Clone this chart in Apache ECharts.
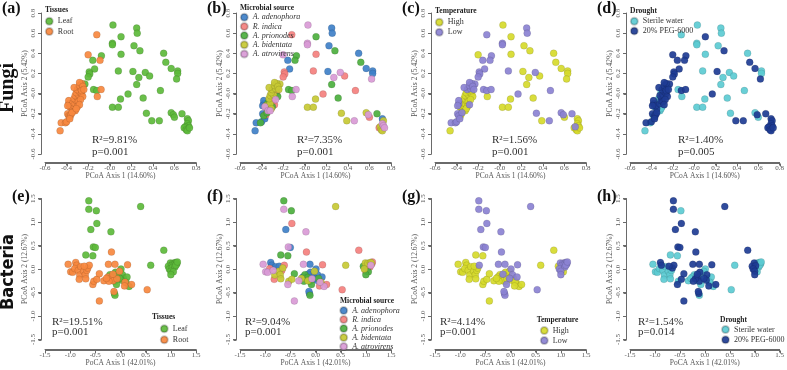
<!DOCTYPE html>
<html>
<head>
<meta charset="UTF-8">
<title>PCoA</title>
<style>
    html, body { margin: 0; padding: 0; background: #fff; }
    #main { width: 787px; height: 370px; }
</style>
</head>
<body>
<div id="main"></div>
<script src="https://cdn.jsdelivr.net/npm/echarts@6/dist/echarts.min.js"></script>
<script type="text/javascript">

    // ---------- fungi (top row): one entry per sample, first block leaf-ish area, second block root cluster
    var fungiX = [0.03, 0.25, 0.255, -0.12, 0.105, 0.025, 0.025, 0.225, 0.28, 0.105,
        0.50, 0.52, -0.077, -0.09, -0.2, -0.157, -0.14, -0.19, -0.185, -0.2,
        0.08, 0.215, 0.33, 0.37, 0.27, 0.57, 0.63, 0.63, 0.62, -0.23,
        -0.15, -0.12, -0.08, 0.25, 0.47, 0.17, 0.10, 0.31, -0.115, 0.025,
        0.08, 0.34, 0.39, 0.46, 0.57, 0.59, 0.60, 0.67, 0.72, 0.73,
        0.72, 0.73, 0.70, 0.69, 0.71, 0.72, 0.74,
        -0.46, -0.45, -0.41, -0.40, -0.39, -0.38, -0.37, -0.36, -0.38, -0.38,
        -0.37, -0.35, -0.34, -0.36, -0.33, -0.34, -0.32, -0.31, -0.33, -0.30,
        -0.32, -0.29, -0.31, -0.28, -0.30, -0.27, -0.33, -0.28, -0.26, -0.28,
        -0.25, -0.26, -0.25, -0.29, -0.27, -0.30, -0.28, -0.32, -0.35, -0.39,
        -0.37, -0.26, -0.24, -0.31];
    var fungiY = [0.68, 0.65, 0.60, 0.585, 0.565, 0.50, 0.485, 0.475, 0.425, 0.39,
        0.40, 0.31, 0.375, 0.33, 0.385, 0.33, 0.245, 0.215, 0.195, 0.165,
        0.225, 0.22, 0.21, 0.175, 0.16, 0.25, 0.225, 0.20, 0.145, 0.095,
        0.04, 0.03, 0.04, 0.09, 0.03, -0.005, -0.055, -0.045, -0.03, -0.135,
        -0.135, -0.195, -0.27, -0.27, -0.19, -0.21, -0.235, -0.20, -0.25, -0.27,
        -0.30, -0.32, -0.33, -0.34, -0.36, -0.37, -0.34,
        -0.37, -0.29, -0.29, -0.28, -0.20, -0.22, -0.23, -0.21, -0.10, -0.07,
        -0.13, -0.15, -0.17, -0.12, -0.12, -0.09, -0.10, -0.07, -0.05, -0.04,
        -0.02, -0.01, 0.01, 0.02, 0.04, 0.05, 0.06, 0.08, 0.10, 0.11,
        0.07, 0.00, -0.03, -0.08, -0.06, -0.13, -0.11, -0.17, -0.19, -0.12,
        -0.25, 0.03, 0.04, -0.15];
    // group codes (index into the name lists below)
    var fungiTissue = [0,0,0,1,0,0,0,0,0,0, 0,0,0,1,1,0,0,0,0,0, 0,0,0,0,0,0,0,0,0,0,
        0,0,1,0,0,0,0,0,1,0, 0,0,0,0,0,0,0,0,0,0, 0,0,0,0,0,0,0,
        1,1,1,1,1,1,1,1,1,1, 1,1,1,1,1,1,1,1,1,1, 1,1,1,1,1,1,1,1,1,1,
        1,1,1,1,1,1,1,1,1,1, 1,1,1,1];
    var fungiSource = [4,0,0,1,2,4,4,0,2,1, 0,2,2,2,4,0,0,1,1,1, 1,0,4,1,4,0,0,0,4,3,
        2,2,4,2,1,1,3,2,4,3, 3,3,3,4,3,4,1,2,0,3, 4,4,3,1,3,3,4,
        0,0,2,0,0,2,0,1,0,0, 4,1,4,3,1,2,3,1,3,1, 3,3,3,1,3,3,3,3,3,3,
        3,1,2,1,4,2,1,4,2,0, 0,1,3,3];
    var fungiTemp = [0,1,1,1,0,1,1,0,0,0, 0,0,1,1,0,1,1,1,1,1, 1,0,1,0,0,0,0,0,0,1,
        1,1,1,0,1,1,0,0,0,0, 0,1,0,1,1,1,0,1,0,0, 0,0,1,0,0,0,0,
        0,1,1,1,1,1,0,0,1,1, 0,0,0,0,0,0,0,0,0,0, 0,0,0,0,1,1,1,1,1,1,
        1,0,0,0,0,0,1,0,1,1, 1,0,1,0];
    var fungiDrought = [0,0,0,0,1,0,0,0,1,0, 0,1,1,1,1,1,1,1,1,1, 0,1,0,0,0,1,0,0,1,1,
        0,1,1,0,0,1,0,0,0,0, 0,0,1,1,0,1,0,1,1,1, 1,1,1,1,1,1,1,
        0,1,0,1,1,0,1,1,1,1, 0,1,0,1,0,0,1,1,0,1, 1,1,0,1,1,1,1,1,1,1,
        0,1,1,1,1,0,1,0,1,1, 1,1,1,0];

    // ---------- bacteria (bottom row)
    var bactX = [-0.63, -0.63, -0.48, 0.40, -0.47, -0.59, -0.19, -0.54, -0.50, -0.69,
        -0.55, 0.86, 0.60, 0.99, 1.04, 1.09, 1.12, 0.95, 1.02, 1.07,
        1.11, 0.97, 1.03, 1.08, 1.00, 1.05, 1.00, 1.10, 1.13, 0.01,
        -0.10, -0.21, -0.15, -0.06, 0.04, 0.06, 0.11, 0.03, -0.11, 0.13,
        0.17, -0.12, -0.11, -0.08, -0.02,
        -1.04, -0.99, -0.95, -0.89, -0.87, -0.91, -0.84, -0.79, -0.81, -0.82,
        -0.73, -0.70, -0.67, -0.65, -0.62, -0.72, -0.69, -0.55, -0.53, -0.47,
        -0.42, -0.42, -0.33, -0.24, -0.11, -0.18, -0.25, -0.19, -0.15, -0.07,
        -0.23, -0.15, -0.13, 0.09, 0.14, 0.22, 0.08, 0.53, -0.02, -0.28];
    var bactY = [1.45, 1.27, 1.24, 1.33, 0.97, 0.84, 0.79, 0.47, 0.46, 0.30,
        0.28, 0.40, 0.08, 0.13, 0.12, 0.14, 0.11, 0.06, 0.07, 0.10,
        0.13, 0.00, 0.03, 0.04, -0.05, -0.06, -0.12, 0.08, 0.15, 0.00,
        -0.07, -0.12, -0.18, -0.15, -0.12, -0.20, -0.28, -0.24, -0.26, -0.17,
        -0.37, -0.52, -0.56, -0.33, -0.20,
        0.10, -0.06, -0.07, 0.14, 0.08, 0.01, -0.03, 0.05, -0.13, -0.22,
        -0.05, -0.12, -0.03, 0.02, 0.08, 0.06, -0.21, -0.33, -0.26, -0.22,
        -0.10, -0.68, -0.25, 0.10, 0.10, 0.36, -0.17, -0.21, -0.25, -0.21,
        -0.26, -0.11, -0.48, -0.28, 0.09, -0.33, -0.36, -0.44, -0.05, -0.20];
    var bactTissue = [0,0,0,0,0,0,0,0,0,0, 0,0,0,0,0,0,0,0,0,0, 0,0,0,0,0,0,0,0,0,0,
        0,0,0,0,0,0,0,0,0,0, 0,0,0,0,0,
        1,1,1,1,1,1,1,1,1,1, 1,1,1,1,1,1,1,1,1,1, 1,1,1,1,1,1,1,1,1,1, 1,1,1,1,1,1,1,1,1,1];
    var bactSource = [2,4,2,3,1,0,4,4,0,2, 2,1,3,3,3,3,1,2,0,1, 3,3,0,1,1,2,2,4,1,0,
        0,2,2,0,0,2,3,0,2,0, 4,0,2,2,0,
        4,4,4,0,0,1,4,0,3,1, 3,3,1,3,1,0,3,4,3,3, 2,4,4,4,0,1,0,1,3,4, 2,0,0,4,1,1,1,1,3,3];
    var bactTemp = [1,1,1,1,1,1,1,1,1,0, 0,0,0,1,1,1,1,0,1,1, 1,1,0,1,1,0,1,1,1,1,
        0,0,0,0,1,0,0,0,0,1, 0,1,1,1,1,
        0,0,0,0,0,0,0,0,0,0, 0,0,0,0,1,0,0,0,0,0, 0,0,0,1,1,1,0,0,0,0, 0,1,1,0,1,0,0,1,0,0];
    var bactDrought = [1,1,0,1,1,1,1,1,1,0, 0,1,0,1,0,0,0,1,1,0, 0,1,0,0,1,0,1,0,0,0,
        1,0,1,0,1,0,0,1,1,0, 0,1,0,0,1,
        0,0,0,1,1,0,0,0,0,0, 0,0,0,1,1,1,0,1,0,1, 1,1,0,1,1,1,0,1,0,0, 1,1,1,0,1,1,1,0,0,0];

    // ---------- labels
    var tissueNames = ['Leaf', 'Root'];
    var sourceNames = ['A. adenophora', 'R. indica', 'A. prionodes', 'A. bidentata', 'A. atrovirens'];
    var tempNames = ['High', 'Low'];
    var droughtNames = ['Sterile water', '20% PEG-6000'];
    var legendTitles = ['Tissues', 'Microbial source', 'Temperature', 'Drought'];
    var panelTags = ['(a)', '(b)', '(c)', '(d)', '(e)', '(f)', '(g)', '(h)'];
    var fungiStats = [['R²=9.81%', 'p=0.001'], ['R²=7.35%', 'p=0.001'], ['R²=1.56%', 'p=0.001'], ['R²=1.40%', 'p=0.005']];
    var bactStats = [['R²=19.51%', 'p=0.001'], ['R²=9.04%', 'p=0.001'], ['R²=4.14%', 'p=0.001'], ['R²=1.54%', 'p=0.014']];
    var fungiTicks = [-0.6, -0.4, -0.2, 0.0, 0.2, 0.4, 0.6, 0.8];
    var bactTicks = [-1.5, -1.0, -0.5, 0.0, 0.5, 1.0, 1.5];

    // ---------- style
    var serif = "'Liberation Serif', 'Times New Roman', serif";
    var axisColor = '#6a6a6a';
    var groupColors = [
        ['#5dba3b', '#f7883f'],                                   // tissues
        ['#3f80c8', '#f4807e', '#4caf3e', '#c7c934', '#d99ad6'],  // source
        ['#d6da2b', '#8b82d2'],                                   // temperature
        ['#5ccbd2', '#1e3c94']                                    // drought
    ];
    var groupNames = [tissueNames, sourceNames, tempNames, droughtNames];

    var rows = [
        {x: fungiX, y: fungiY, codes: [fungiTissue, fungiSource, fungiTemp, fungiDrought],
            ticks: fungiTicks, top: 13, xOff: 8.5, xName: 'PCoA Axis 1 (14.60%)', yName: 'PCoA Axis 2 (5.42%)',
            stats: fungiStats, negZero: true},
        {x: bactX, y: bactY, codes: [bactTissue, bactSource, bactTemp, bactDrought],
            ticks: bactTicks, top: 198.5, xOff: 10, xName: 'PoCA Axis 1 (42.01%)', yName: 'PCoA Axis 2 (12.67%)',
            stats: bactStats, negZero: false}
    ];

    // legend placement per panel: [left, top, itemGap]
    var legendPos = [
        [44.8, 16.7, 1.3], [239.8, 12.7, 0.2], [434.8, 17.7, 1], [629.8, 16.7, 0.7],
        [159.8, 324.3, 2], [339.2, 306, 0], [539.8, 326, 1], [721, 325, 1.3]
    ];
    // legend title position: [x, y]
    var legendTitlePos = [[45, 10.5], [240, 8.5], [435, 11], [630, 11.5],
        [152, 316.7], [340, 301.5], [536.7, 320], [720, 320]];
    var statsPos = [[92, 140], [297, 140], [492, 140], [678, 140],
        [52, 321.7], [245, 321.7], [440, 321.7], [638, 321.7]];
    var tagPos = [[2, 8.5], [207, 9], [402, 9], [597, 9], [12, 196.5], [207, 196.5], [402, 196.5], [597, 196.5]];

    // a fresh axis option every time, nothing shared between axes
    function makeAxis(gi, ticks, pos, offset, name, nameGap, fmt, rotate, margin) {
        return {
            gridIndex: gi, type: 'value', position: pos, offset: offset,
            min: ticks[0], max: ticks[ticks.length - 1],
            interval: Math.round((ticks[1] - ticks[0]) * 10) / 10,
            axisLine: {show: true, onZero: false, lineStyle: {color: axisColor, width: 1}},
            axisTick: {show: true, length: 3, lineStyle: {color: axisColor, width: 1}},
            splitLine: {show: false},
            name: name, nameLocation: 'middle', nameGap: nameGap,
            nameTextStyle: {fontSize: 7.5, color: '#555', fontFamily: serif},
            axisLabel: {fontSize: 7, color: '#555', fontFamily: serif, margin: margin, rotate: rotate,
                formatter: fmt}
        };
    }

    var grids = [], xAxes = [], yAxes = [], series = [], legends = [], graphics = [];

    rows.forEach(function (row, r) {
        var fmt = function (v) {
            var s = (Math.round(v * 10) / 10).toFixed(1);
            if (s === '0.0' && row.negZero) s = '-0.0';
            return s;
        };
        for (var c = 0; c < 4; c++) {
            var gi = r * 4 + c;
            grids.push({left: 45 + 195 * c, top: row.top, width: 151, height: 141});
            xAxes.push(makeAxis(gi, row.ticks, 'bottom', row.xOff, row.xName, 10, fmt, 0, 2));
            yAxes.push(makeAxis(gi, row.ticks, 'left', 4, row.yName, 12, fmt, 90, 4));

            var names = groupNames[c], codes = row.codes[c];
            names.forEach(function (nm, g) {
                var pts = [];
                for (var i = 0; i < row.x.length; i++) {
                    if (codes[i] === g) pts.push([row.x[i], row.y[i]]);
                }
                series.push({
                    type: 'scatter', name: nm, xAxisIndex: gi, yAxisIndex: gi,
                    data: pts, symbolSize: 7,
                    itemStyle: {color: groupColors[c][g], opacity: 0.92,
                        borderColor: 'rgba(0,0,0,0.22)', borderWidth: 0.5}
                });
            });

            var lp = legendPos[gi];
            legends.push({
                data: names, orient: 'vertical', left: lp[0], top: lp[1], itemGap: lp[2],
                icon: 'circle', itemWidth: 7, itemHeight: 7, padding: 0, selectedMode: false,
                textStyle: {fontSize: 8, lineHeight: 8, color: '#333', fontFamily: serif,
                    fontStyle: c === 1 ? 'italic' : 'normal'}
            });

            var tp = legendTitlePos[gi];
            graphics.push({type: 'text', x: tp[0], y: tp[1], style: {text: legendTitles[c],
                font: 'bold 7.5px ' + serif, fill: '#222', align: 'left', verticalAlign: 'middle',
                textAlign: 'left', textVerticalAlign: 'middle'}});

            var sp = statsPos[gi];
            graphics.push({type: 'text', x: sp[0], y: sp[1], style: {text: row.stats[c][0],
                font: '11px ' + serif, fill: '#333', align: 'left', verticalAlign: 'middle',
                textAlign: 'left', textVerticalAlign: 'middle'}});
            graphics.push({type: 'text', x: sp[0], y: sp[1] + (r ? 10.5 : 11.7), style: {text: row.stats[c][1],
                font: '11px ' + serif, fill: '#333', align: 'left', verticalAlign: 'middle',
                textAlign: 'left', textVerticalAlign: 'middle'}});

            var pp = tagPos[gi];
            graphics.push({type: 'text', x: pp[0], y: pp[1], style: {text: panelTags[gi],
                font: 'bold 16px ' + serif, fill: '#111', align: 'left', verticalAlign: 'middle',
                textAlign: 'left', textVerticalAlign: 'middle'}});
        }
    });

    // row titles
    graphics.push({type: 'text', x: 8, y: 88, rotation: Math.PI / 2, z: 100, style: {text: 'Fungi',
        font: 'bold 20px ' + serif, fill: '#111', align: 'center', verticalAlign: 'middle',
        textAlign: 'center', textVerticalAlign: 'middle'}});
    graphics.push({type: 'text', x: 8, y: 272, rotation: Math.PI / 2, z: 100, style: {text: 'Bacteria',
        font: "bold 18px 'Liberation Sans Narrow', 'DejaVu Sans Condensed', sans-serif", fill: '#111',
        align: 'center', verticalAlign: 'middle', textAlign: 'center', textVerticalAlign: 'middle'}});

    var myChart = echarts.init(document.getElementById('main'));
    myChart.setOption({
        animation: false,
        grid: grids,
        xAxis: xAxes,
        yAxis: yAxes,
        legend: legends,
        series: series,
        graphic: graphics
    });

    // axis lines + ticks, placed through the chart's own scales (R style: lines only span the ticks)
    var crisp = function (v) { return Math.round(v) + 0.5; };
    var lineStyle = {stroke: axisColor, lineWidth: 1};
    rows.forEach(function (row, r) {
        var t = row.ticks, lo = t[0], hi = t[t.length - 1];
        for (var c = 0; c < 4; c++) {
            var gi = r * 4 + c;
            var finder = {xAxisIndex: gi, yAxisIndex: gi};
            var p0 = myChart.convertToPixel(finder, [lo, lo]);
            var p1 = myChart.convertToPixel(finder, [hi, hi]);
            var yLineX = crisp(p0[0] - 4), xLineY = crisp(p0[1] + row.xOff);
            graphics.push({type: 'line', silent: true, shape: {x1: yLineX, y1: p1[1], x2: yLineX, y2: p0[1]}, style: lineStyle});
            graphics.push({type: 'line', silent: true, shape: {x1: p0[0], y1: xLineY, x2: p1[0], y2: xLineY}, style: lineStyle});
            t.forEach(function (v) {
                var px = crisp(myChart.convertToPixel(finder, [v, lo])[0]);
                var py = crisp(myChart.convertToPixel(finder, [lo, v])[1]);
                graphics.push({type: 'line', silent: true, shape: {x1: px, y1: xLineY, x2: px, y2: xLineY + 3}, style: lineStyle});
                graphics.push({type: 'line', silent: true, shape: {x1: yLineX - 3, y1: py, x2: yLineX, y2: py}, style: lineStyle});
            });
        }
    });
    myChart.setOption({graphic: graphics});

</script>
</body>
</html>
